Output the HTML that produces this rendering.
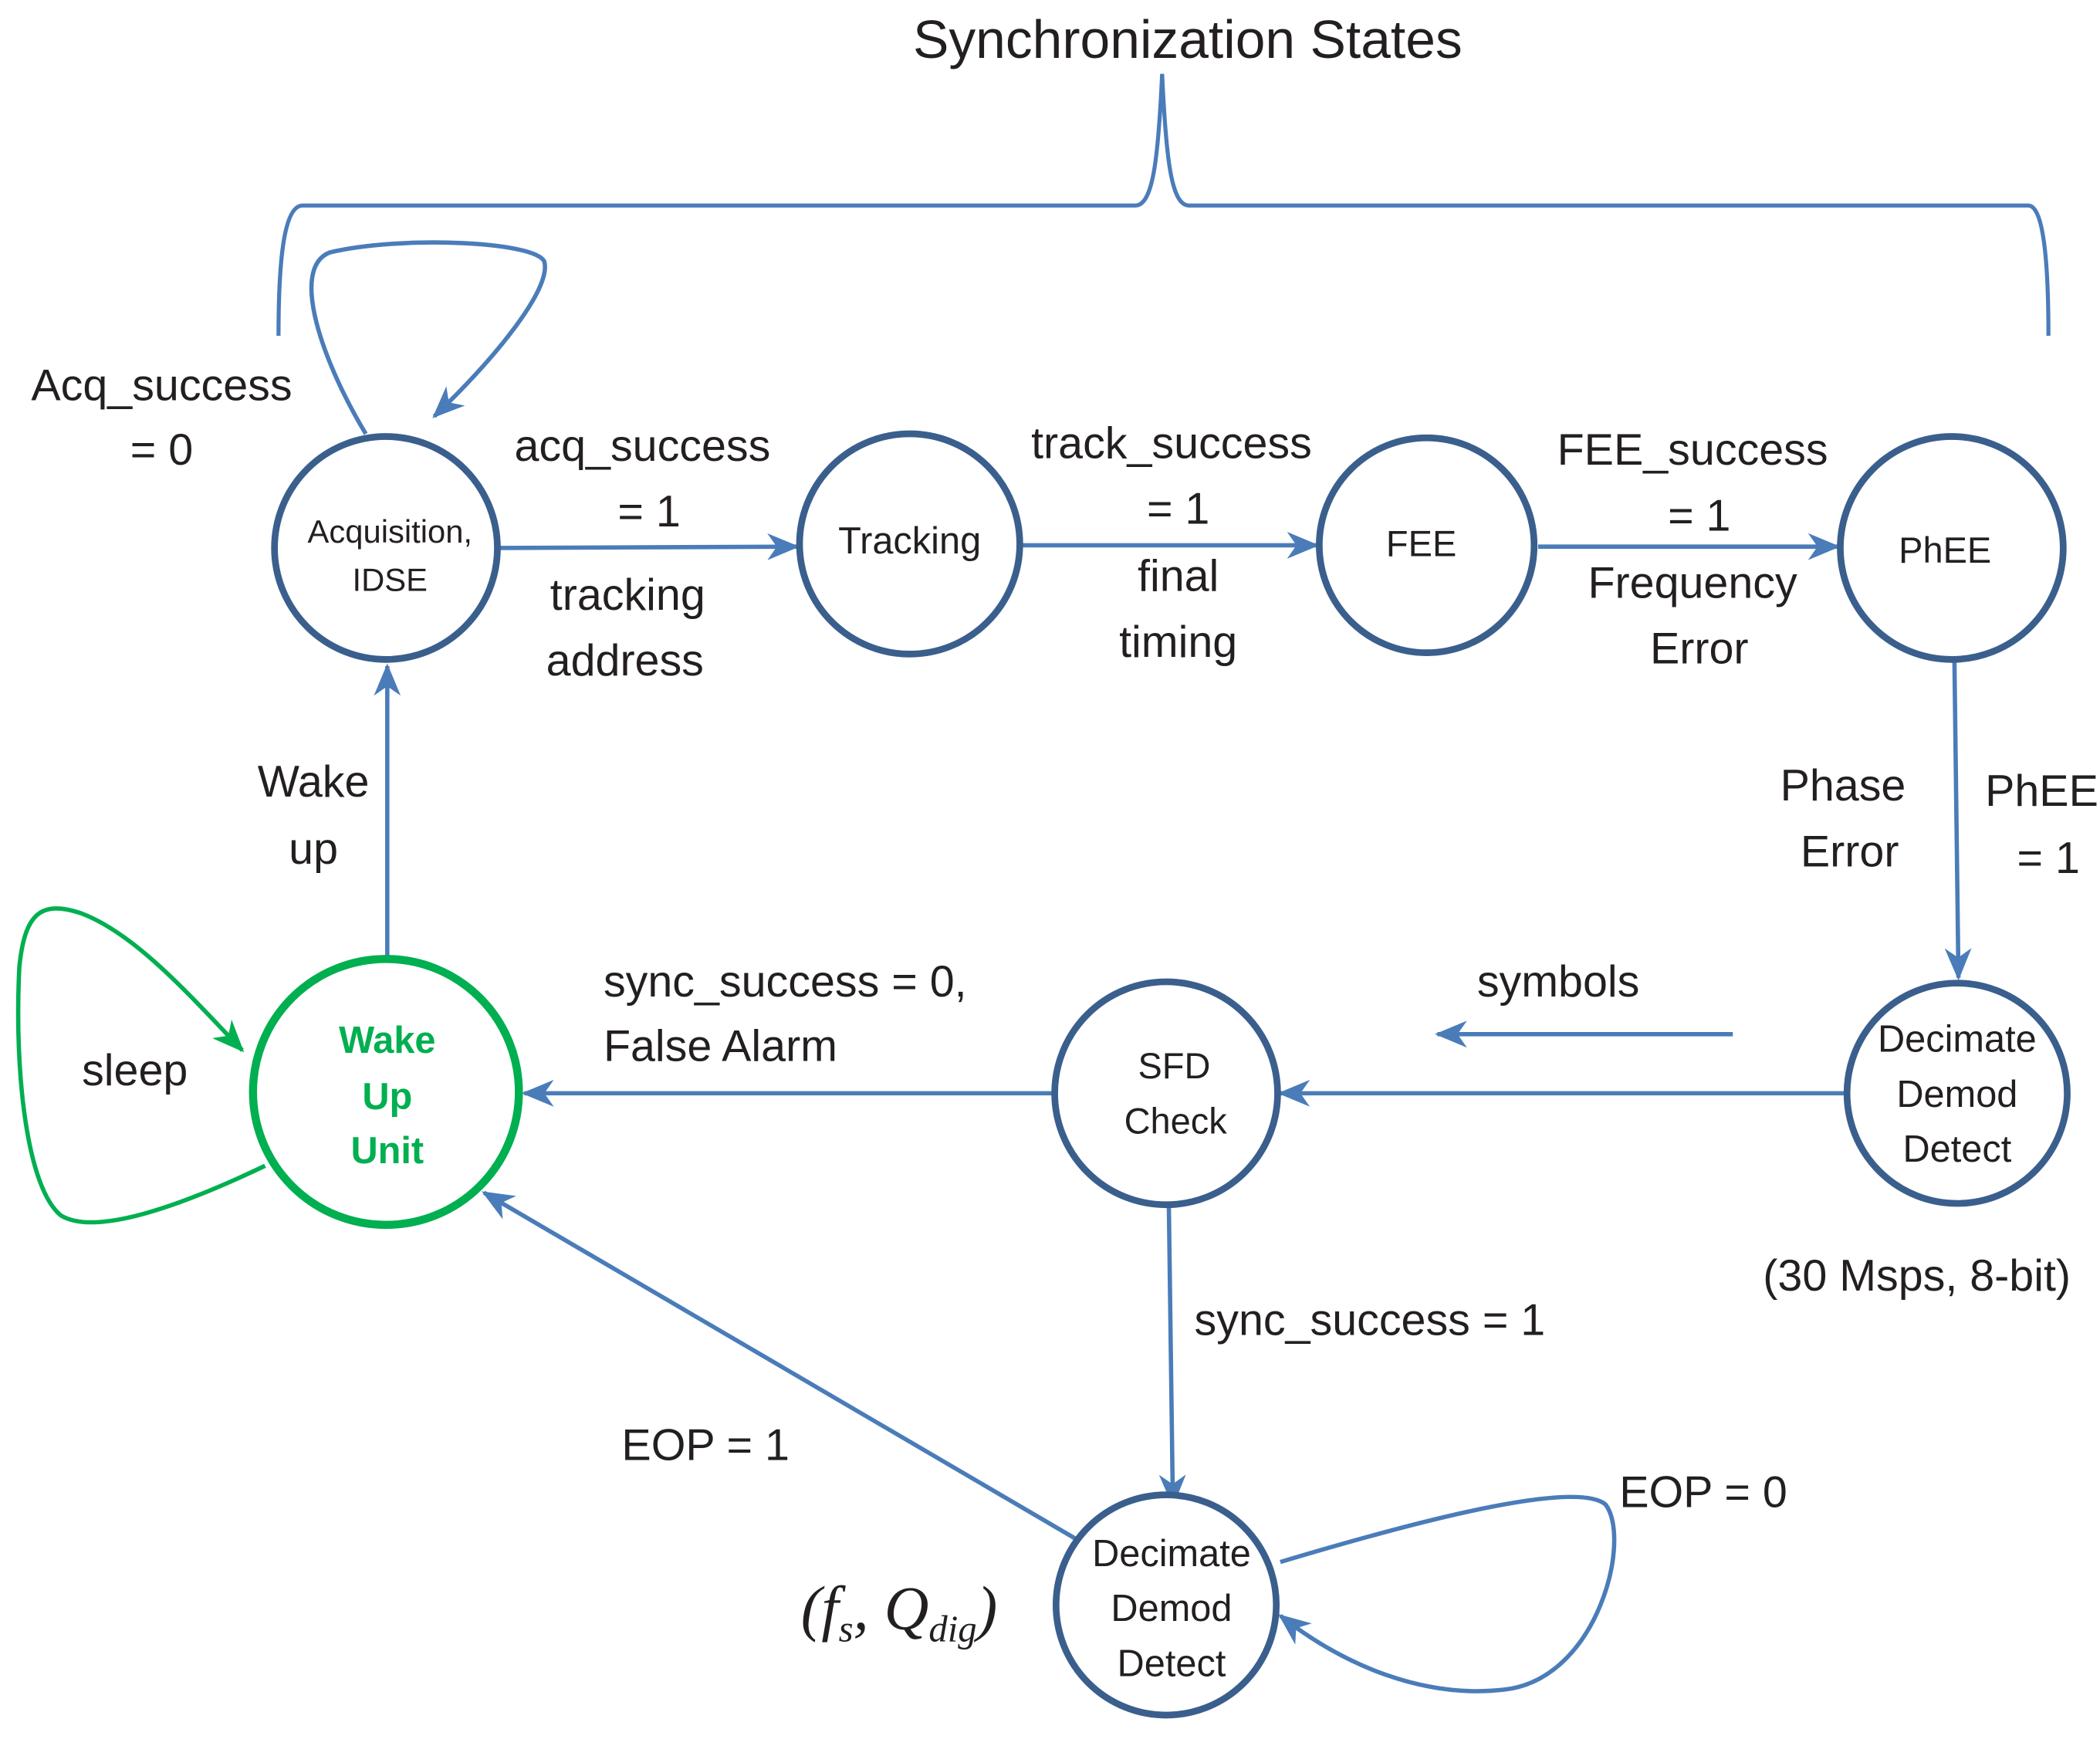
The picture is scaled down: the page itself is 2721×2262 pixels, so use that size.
<!DOCTYPE html>
<html><head><meta charset="utf-8"><style>
html,body{margin:0;padding:0;background:#fff;}
svg{display:block;}
text{font-family:"Liberation Sans","DejaVu Sans",sans-serif;fill:#231f20;}
</style></head><body>
<svg width="2721" height="2262" viewBox="0 0 1563 1300" xmlns="http://www.w3.org/2000/svg">
<defs>
<marker id="a" viewBox="0 0 24 20" refX="22" refY="10" markerWidth="24" markerHeight="20" markerUnits="userSpaceOnUse" orient="auto">
<path d="M0,0 L24,10 L0,20 L7,10 z" fill="#4a7cb9"/></marker>
<marker id="g" viewBox="0 0 24 20" refX="22" refY="10" markerWidth="24" markerHeight="20" markerUnits="userSpaceOnUse" orient="auto">
<path d="M0,0 L24,10 L0,20 L7,10 z" fill="#00af50"/></marker>
</defs>
<text x="884" y="43" font-size="40" text-anchor="middle">Synchronization States</text>
<path d="M207,250 C207,200 210,153 225,153 L845,153 C858,153 862,120 865,55 C868,120 872,153 885,153 L1510,153 C1522,153 1525,200 1525,250" fill="none" stroke="#4a7cb9" stroke-width="3"/>

<g fill="none" stroke="#4a7cb9" stroke-width="3.2">
<path d="M370,408 L593,407" marker-end="url(#a)"/>
<path d="M760,406 L980,406" marker-end="url(#a)"/>
<path d="M1145,407 L1368,407" marker-end="url(#a)"/>
<path d="M1455,492 L1458,728" marker-end="url(#a)"/>
<path d="M1374,814 L953,814" marker-end="url(#a)"/>
<path d="M1290,770 L1070,770" marker-end="url(#a)"/>
<path d="M785,814 L390,814" marker-end="url(#a)"/>
<path d="M870,897 L873,1120" marker-end="url(#a)"/>
<path d="M808,1150 L360,888" marker-end="url(#a)"/>
<path d="M288,713 L288,496" marker-end="url(#a)"/>
<path d="M272,323 C240,270 215,200 245,188 C300,175 400,180 405,195 C410,215 370,265 323,310" marker-end="url(#a)"/>
<path d="M953,1163 C1030,1140 1170,1100 1195,1120 C1215,1145 1190,1250 1120,1258 C1060,1265 1000,1240 953,1203" marker-end="url(#a)"/>
</g>
<path d="M197,868 C130,900 70,920 45,905 C20,885 10,800 14,720 C18,680 30,670 60,680 C100,695 140,740 180,782" fill="none" stroke="#00af50" stroke-width="3.2" marker-end="url(#g)"/>

<g fill="#fff" stroke="#3a5f8d" stroke-width="5">
<circle cx="287" cy="408" r="83"/>
<circle cx="677" cy="405" r="82"/>
<circle cx="1062" cy="406" r="80"/>
<circle cx="1453" cy="408" r="83"/>
<circle cx="1457" cy="814" r="82"/>
<circle cx="868" cy="814" r="83"/>
<circle cx="868" cy="1195" r="82"/>
</g>
<circle cx="287" cy="813" r="99" fill="#fff" stroke="#00af50" stroke-width="6"/>

<g font-size="25" text-anchor="middle">
<text x="290" y="404" font-size="24">Acquisition,</text>
<text x="290" y="440" font-size="24">IDSE</text>
<text x="677" y="412" font-size="28">Tracking</text>
<text x="1058" y="414" font-size="27">FEE</text>
<text x="1448" y="419" font-size="27">PhEE</text>
<text x="1457" y="783" font-size="28">Decimate</text>
<text x="1457" y="824" font-size="28">Demod</text>
<text x="1457" y="865" font-size="28">Detect</text>
<text x="874" y="803" font-size="27">SFD</text>
<text x="875" y="844" font-size="27">Check</text>
<text x="872" y="1166" font-size="28">Decimate</text>
<text x="872" y="1207" font-size="28">Demod</text>
<text x="872" y="1248" font-size="28">Detect</text>
<g font-weight="bold" font-size="28" style="fill:#00af50"><text x="288" y="784" style="fill:#00af50">Wake</text><text x="288" y="826" style="fill:#00af50">Up</text><text x="288" y="866" style="fill:#00af50">Unit</text></g>
</g>

<g font-size="33" text-anchor="middle">
<text x="120" y="298">Acq_success</text>
<text x="120" y="346">= 0</text>
<text x="478" y="343">acq_success</text>
<text x="483" y="392">= 1</text>
<text x="467" y="454">tracking</text>
<text x="465" y="503">address</text>
<text x="872" y="341">track_success</text>
<text x="877" y="390">= 1</text>
<text x="877" y="440">final</text>
<text x="877" y="489">timing</text>
<text x="1260" y="346">FEE_success</text>
<text x="1265" y="395">= 1</text>
<text x="1260" y="445">Frequency</text>
<text x="1265" y="494">Error</text>
<text x="1372" y="596">Phase</text>
<text x="1377" y="645">Error</text>
<text x="1520" y="600">PhEE</text>
<text x="1525" y="650">=  1</text>
<text x="1160" y="742">symbols</text>
<text x="233" y="593">Wake</text>
<text x="233" y="643">up</text>
<text x="100" y="808">sleep</text>
<text x="1427" y="961">(30 Msps, 8-bit)</text>
<text x="1268" y="1122">EOP = 0</text>
<text x="525" y="1087">EOP = 1</text>
</g>
<g font-size="33">
<text x="449" y="742">sync_success = 0,</text>
<text x="449" y="790">False Alarm</text>
<text x="889" y="994">sync_success = 1</text>
</g>
<text x="596" y="1213" font-size="46" font-style="italic" style="font-family:'Liberation Serif',serif">(<tspan>f</tspan><tspan font-size="28" dy="9">s</tspan><tspan dy="-9">, Q</tspan><tspan font-size="28" dy="9">dig</tspan><tspan dy="-9">)</tspan></text>
</svg>
</body></html>
